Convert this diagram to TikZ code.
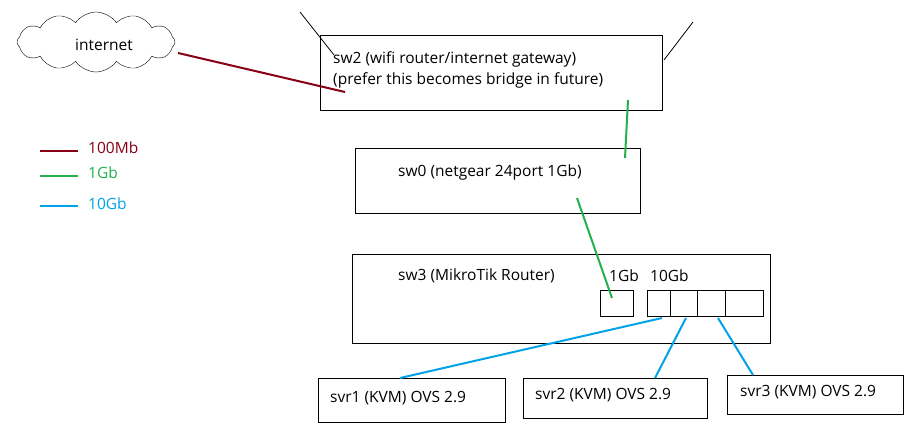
\documentclass[tikz,border=0pt]{standalone}
\usepackage{fontspec}
\setmainfont{Open Sans}
\usetikzlibrary{shapes.symbols}
\definecolor{cred}{RGB}{136,0,21}
\definecolor{cgreen}{RGB}{34,177,76}
\definecolor{cblue}{RGB}{0,162,232}
\begin{document}
\begin{tikzpicture}[x=1pt,y=-1pt,
  box/.style={draw,thick,inner sep=0pt},
  lbl/.style={anchor=west,inner sep=0pt,font=\fontsize{15.5}{17}\selectfont},
  w100/.style={cred,line width=2pt},
  w1/.style={cgreen,line width=2pt},
  w10/.style={cblue,line width=2pt}]
\useasboundingbox[fill=white] (0,0) rectangle (921,439);
% cloud
\node[cloud,draw,cloud puffs=12,cloud puff arc=110,aspect=2.8,minimum width=158pt,minimum height=60pt,inner sep=0pt] (cloud) at (96,42) {};
\node[lbl] (inet) at (75,45) {internet};
% sw2
\draw[box] (320,35) rectangle (662,110);
\coordinate (a1) at (300,12); \coordinate (a1b) at (334,55);
\coordinate (a2) at (693,22); \coordinate (a2b) at (664,60);
\draw[thick] (a1) -- (a1b);
\draw[thick] (a2) -- (a2b);
\node[lbl] (t2a) at (333,59) {sw2 (wifi router/internet gateway)};
\node[lbl] (t2b) at (333,80) {(prefer this becomes bridge in future)};
% sw0
\draw[box] (355,148) rectangle (640,213);
\node[lbl] (t0) at (398,172) {sw0 (netgear 24port 1Gb)};
% sw3
\draw[box] (352,254) rectangle (770,343);
\node[lbl] (t3) at (398,276) {sw3 (MikroTik Router)};
\node[lbl] (g1) at (609,276) {1Gb};
\node[lbl] (g10) at (650,276) {10Gb};
\node[box,minimum width=33pt,minimum height=26pt] (p1) at (616.5,303) {};
\node[box,minimum width=116pt,minimum height=26pt] (pp) at (705,303) {};
\draw[thick] (670,290) -- (670,316) (697,290) -- (697,316) (725,290) -- (725,316);
% servers
\node[box,minimum width=187pt,minimum height=44pt] (s1) at (411.5,400) {};
\node[lbl] at (330,398) {svr1 (KVM) OVS 2.9};
\node[box,minimum width=184pt,minimum height=40pt] (s2) at (615,398) {};
\node[lbl] at (535,395) {svr2 (KVM) OVS 2.9};
\node[box,minimum width=176pt,minimum height=39pt] (s3) at (815,394.5) {};
\node[lbl] at (740,392) {svr3 (KVM) OVS 2.9};
% links
\coordinate (r1) at (178,53); \coordinate (r2) at (345,92);
\draw[w100] (r1) -- (r2);
\coordinate (g1a) at (628,100); \coordinate (g1b) at (625,158);
\draw[w1] (g1a) -- (g1b);
\coordinate (g2a) at (577,198); \coordinate (g2b) at (612,298);
\draw[w1] (g2a) -- (g2b);
\coordinate (b1) at (662,318); \coordinate (b2) at (686,318); \coordinate (b3) at (718,318);
\draw[w10] (b1) -- (400,378);
\draw[w10] (b2) -- (655,378);
\draw[w10] (b3) -- (753,375);
% legend
\coordinate (l1) at (40,151); \coordinate (l2) at (40,176); \coordinate (l3) at (40,206);
\draw[w100] (l1) -- ++(38,0);
\draw[w1] (l2) -- ++(38,0);
\draw[w10] (l3) -- ++(38,0);
\node[lbl,text=cred] at (88,148) {100Mb};
\node[lbl,text=cgreen] at (88,173) {1Gb};
\node[lbl,text=cblue] at (88,204) {10Gb};
\end{tikzpicture}
\end{document}
